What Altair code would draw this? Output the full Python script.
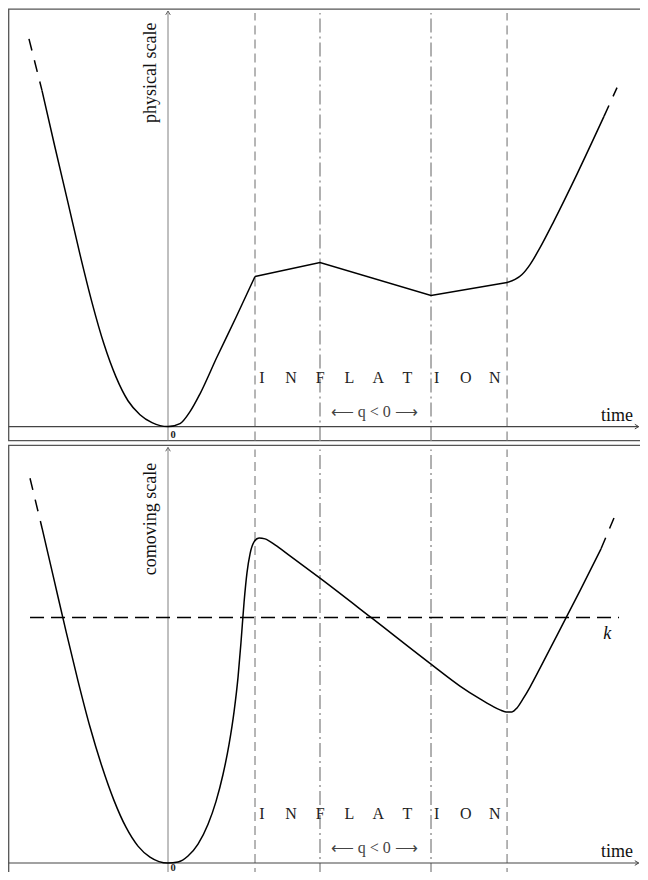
import altair as alt
import pandas as pd

# ---------------- data (time units, scale units) ----------------
# top panel: physical scale
phys_smooth_left_t = [-1.448, -1.299, -1.149, -1.011, -0.874, -0.736, -0.598, -0.460, -0.322, -0.184, 0.0,
                      0.138, 0.253, 0.368, 0.563, 0.782, 1.0]
phys_smooth_left_a = [8.45, 7.025, 5.625, 4.325, 3.125, 2.075, 1.25, 0.65, 0.30, 0.10, 0.0,
                      0.075, 0.375, 0.825, 1.75, 2.75, 3.775]
phys_inflation_t = [1.0, 1.747, 3.023, 3.897]
phys_inflation_a = [3.775, 4.125, 3.30, 3.625]
phys_smooth_right_t = [3.897, 3.989, 4.069, 4.161, 4.276, 4.437, 4.701, 5.011]
phys_smooth_right_a = [3.625, 3.70, 3.825, 4.075, 4.50, 5.175, 6.35, 7.80]
phys_dash_left_t = [-1.598, -1.448]
phys_dash_left_a = [9.75, 8.45]
phys_dash_right_t = [5.011, 5.161]
phys_dash_right_a = [7.80, 8.525]

# bottom panel: comoving scale
com_t = [-1.448, -1.310, -1.172, -1.034, -0.897, -0.759, -0.621, -0.483, -0.345, -0.207, 0.0,
         0.115, 0.230, 0.345, 0.460, 0.552, 0.632, 0.701, 0.759, 0.805, 0.839, 0.874, 0.908, 0.943,
         0.989, 1.046, 1.115, 1.230, 1.402, 1.770, 2.333, 3.023, 3.356, 3.586, 3.724, 3.816, 3.885,
         3.954, 4.011, 4.080, 4.161, 4.276, 4.471, 4.736, 4.977]
com_a = [8.425, 7.125, 5.825, 4.575, 3.425, 2.425, 1.575, 0.90, 0.425, 0.15, 0.0,
         0.025, 0.175, 0.475, 0.975, 1.55, 2.225, 2.975, 3.80, 4.675, 5.55, 6.55, 7.30, 7.775,
         8.075, 8.175, 8.15, 8.0, 7.725, 7.125, 6.175, 5.0, 4.45, 4.125, 3.95, 3.85, 3.80,
         3.80, 3.90, 4.125, 4.425, 4.90, 5.725, 6.85, 7.90]
com_dash_left_t = [-1.586, -1.448]
com_dash_left_a = [9.675, 8.425]
com_dash_right_t = [4.977, 5.126]
com_dash_right_a = [7.90, 8.675]

k_level = 6.175
k_span = [-1.586, 5.184]

# markers of the inflation era
era_dashed_t = [1.0, 3.897]
era_dashdot_t = [1.747, 3.023]

# texts
y_labels = ["physical scale", "comoving scale"]
time_label = "time"
zero_label = "0"
k_label = "k"
era_letters = list("INFLATION")
q_label = "⟵ q < 0 ⟶"

# ---------------- layout ----------------
W, H = 632, 864
XD = [-1.839, 5.425]
YD = [-0.226, 21.499]
PANEL_OFFSET = [10.973, 0.0]      # top panel, bottom panel
PANEL_A = [-0.35, 10.5]           # panel frame in panel units
ZERO_A = [-0.29, -0.21]
ARROW_T = 5.41
FONT = "Liberation Serif"

XS = alt.Scale(domain=XD, nice=False, zero=False)
YS = alt.Scale(domain=YD, nice=False, zero=False)


def X(f):
    return alt.X(f, type="quantitative", scale=XS, axis=None)


def Y(f):
    return alt.Y(f, type="quantitative", scale=YS, axis=None)


def frame(d, off):
    d = pd.DataFrame(d)
    for c in ("a", "lo_a", "hi_a"):
        if c in d:
            d[c.replace("a", "v")] = d[c] + off
    return d


def line(ts, as_, off, **kw):
    return alt.Chart(frame({"t": ts, "a": as_}, off)).mark_line(clip=True, **kw).encode(
        x=X("t"), y=Y("v"), order="t:Q")


def point_text(t, a, text, off, **kw):
    return alt.Chart(frame({"t": [t], "a": [a], "s": [text]}, off)).mark_text(font=FONT, **kw).encode(
        x=X("t"), y=Y("v"), text="s:N")


def common_layers(p):
    off = PANEL_OFFSET[p]
    L = []
    # panel frame
    L.append(alt.Chart(frame({"x0": [XD[0] + 0.008], "x1": [XD[1] + 0.2],
                              "lo_a": [PANEL_A[0]], "hi_a": [PANEL_A[1]]}, off))
             .mark_rect(fillOpacity=0, stroke="#555", strokeWidth=1.3, clip=True)
             .encode(x=X("x0"), x2="x1", y=Y("lo_v"), y2="hi_v"))
    L.append(alt.Chart(frame({"t": era_dashed_t, "lo_a": PANEL_A[0], "hi_a": 10.4}, off)).mark_rule(
        color="#858585", strokeWidth=1.2, strokeDash=[9, 5], clip=True).encode(x=X("t"), y=Y("lo_v"), y2="hi_v"))
    L.append(alt.Chart(frame({"t": era_dashdot_t, "lo_a": PANEL_A[0], "hi_a": 10.4}, off)).mark_rule(
        color="#a8a8a8", strokeWidth=1.8, strokeDash=[14, 4, 2, 4], clip=True).encode(
        x=X("t"), y=Y("lo_v"), y2="hi_v"))
    # vertical axis with arrow
    L.append(alt.Chart(frame({"t": [0.0], "lo_a": [PANEL_A[0]], "hi_a": [10.45]}, off)).mark_rule(
        color="#808080", strokeWidth=1, clip=True).encode(x=X("t"), y=Y("lo_v"), y2="hi_v"))
    L.append(alt.Chart(frame({"t": [0.0], "a": [10.45]}, off)).mark_point(
        shape="M-0.6,1L0,0L0.6,1", size=60, filled=False, color="#666", strokeWidth=1, opacity=1
    ).encode(x=X("t"), y=Y("v")))
    # time axis with arrow
    L.append(alt.Chart(frame({"lo": [XD[0] + 0.008], "hi": [ARROW_T], "a": [0.0]}, off)).mark_rule(
        color="#444", strokeWidth=1.2).encode(x=X("lo"), x2="hi", y=Y("v")))
    L.append(alt.Chart(frame({"t": [ARROW_T], "a": [0.0]}, off)).mark_point(
        shape="M-1,-0.6L0,0L-1,0.6", size=60, filled=False, color="#444", strokeWidth=1, opacity=1
    ).encode(x=X("t"), y=Y("v")))
    L.append(point_text(5.16, 0.15, time_label, off, fontSize=18, color="#111", align="center",
                        baseline="alphabetic"))
    L.append(point_text(0.06, ZERO_A[p], zero_label, off, fontSize=10.5, fontWeight="bold", color="#222",
                        align="center", baseline="alphabetic"))
    L.append(alt.Chart(pd.DataFrame({"s": era_letters, "i": list(range(len(era_letters)))}))
             .transform_calculate(t="1.08 + datum.i * 0.3345", v=f"1.1 + {off}")
             .mark_text(font=FONT, fontSize=16, color="#222", align="center", baseline="alphabetic")
             .encode(x=X("t"), y=Y("v"), text="s:N"))
    L.append(point_text(2.37, 0.25, q_label, off, fontSize=16, color="#444", align="center",
                        baseline="alphabetic"))
    return L


curve_style = dict(color="#000", strokeWidth=1.5)
dash_style = dict(color="#000", strokeWidth=1.5, strokeDash=[12, 10])

o1, o2 = PANEL_OFFSET

top_layers = common_layers(0) + [
    line(phys_smooth_left_t, phys_smooth_left_a, o1, interpolate="monotone", **curve_style),
    line(phys_inflation_t, phys_inflation_a, o1, interpolate="linear", **curve_style),
    line(phys_smooth_right_t, phys_smooth_right_a, o1, interpolate="monotone", **curve_style),
    line(phys_dash_left_t, phys_dash_left_a, o1, **dash_style),
    line(phys_dash_right_t, phys_dash_right_a, o1, **dash_style),
    point_text(-0.138, 8.9, y_labels[0], o1, fontSize=18, angle=270, color="#111", align="center",
               baseline="alphabetic"),
]

bottom_layers = common_layers(1) + [
    alt.Chart(frame({"lo": [k_span[0]], "hi": [k_span[1]], "a": [k_level]}, o2)).mark_rule(
        color="#000", strokeWidth=1.5, strokeDash=[14, 7]).encode(x=X("lo"), x2="hi", y=Y("v")),
    line(com_t, com_a, o2, interpolate="monotone", **curve_style),
    line(com_dash_left_t, com_dash_left_a, o2, **dash_style),
    line(com_dash_right_t, com_dash_right_a, o2, **dash_style),
    point_text(5.05, 5.63, k_label, o2, fontSize=18, fontStyle="italic", color="#111", align="center",
               baseline="alphabetic"),
    point_text(-0.138, 8.65, y_labels[1], o2, fontSize=18, angle=270, color="#111", align="center",
               baseline="alphabetic"),
]

chart = alt.layer(*top_layers, *bottom_layers).properties(
    width=W, height=H,
    autosize=alt.AutoSizeParams(type="none"),
    padding={"left": 0, "top": 0, "right": 0, "bottom": 0},
    background="white",
).configure_view(stroke=None)

chart.save("out.html", embed_options={"renderer": "svg", "actions": False})
